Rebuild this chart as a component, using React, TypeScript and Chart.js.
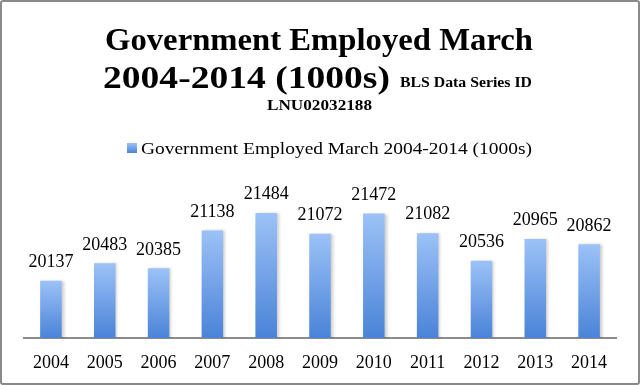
import React, { useEffect, useRef } from "react";
import { Chart, registerables } from "chart.js";

Chart.register(...registerables);

const years = ["2004", "2005", "2006", "2007", "2008", "2009", "2010", "2011", "2012", "2013", "2014"];
const employed = [20137, 20483, 20385, 21138, 21484, 21072, 21472, 21082, 20536, 20965, 20862];
const seriesLabel = "Government Employed March 2004-2014 (1000s)";
const titleLine1 = "Government Employed March";
const titleLine2 = "2004-2014 (1000s)";
const titleSmall = "BLS Data Series ID";
const titleLine3 = "LNU02032188";

const SERIF = "'Liberation Serif', 'DejaVu Serif', serif";

function fitText(ctx: CanvasRenderingContext2D, text: string, x: number, y: number, targetW: number) {
  const w = ctx.measureText(text).width;
  const s = targetW / w;
  ctx.save();
  ctx.translate(x, y);
  ctx.scale(s, 1);
  ctx.fillText(text, 0, 0);
  ctx.restore();
}

const titlePlugin = {
  id: "customTitle",
  afterDraw(chart: any) {
    const ctx = chart.ctx as CanvasRenderingContext2D;
    ctx.save();
    ctx.fillStyle = "#000";
    ctx.textBaseline = "alphabetic";
    ctx.textAlign = "left";
    ctx.font = `bold 32px ${SERIF}`;
    fitText(ctx, titleLine1, 103, 48, 428);
    ctx.font = `bold 32px ${SERIF}`;
    fitText(ctx, titleLine2, 101, 86, 287);
    ctx.font = `bold 15px ${SERIF}`;
    fitText(ctx, titleSmall, 398, 85, 132);
    ctx.font = `bold 15px ${SERIF}`;
    fitText(ctx, titleLine3, 265, 108, 105);

    // legend (series label with swatch)
    const boxX = 125, boxY = 141, boxS = 10;
    const g = ctx.createLinearGradient(0, boxY, 0, boxY + boxS);
    g.addColorStop(0, "#9cc2f7");
    g.addColorStop(1, "#4a83d8");
    ctx.fillStyle = g;
    ctx.fillRect(boxX, boxY, boxS, boxS);
    ctx.fillStyle = "#000";
    ctx.font = `17px ${SERIF}`;
    fitText(ctx, chart.data.datasets[0].label, 139, 152, 391);
    ctx.restore();
  },
};

const valueLabelPlugin = {
  id: "valueLabels",
  afterDatasetsDraw(chart: any) {
    const ctx = chart.ctx as CanvasRenderingContext2D;
    const meta = chart.getDatasetMeta(0);
    ctx.save();
    ctx.font = `18px ${SERIF}`;
    ctx.fillStyle = "#000";
    ctx.textAlign = "center";
    ctx.textBaseline = "middle";
    meta.data.forEach((bar: any, i: number) => {
      ctx.fillText(String(chart.data.datasets[0].data[i]), bar.x, bar.y - 18.5);
    });
    ctx.restore();
  },
};

const shadowPlugin = {
  id: "barShadow",
  beforeDatasetDraw(chart: any) {
    const ctx = chart.ctx as CanvasRenderingContext2D;
    ctx.save();
    ctx.shadowColor = "rgba(0,0,0,0.22)";
    ctx.shadowBlur = 3;
    ctx.shadowOffsetX = 2;
    ctx.shadowOffsetY = 0;
  },
  afterDatasetDraw(chart: any) {
    chart.ctx.restore();
  },
};

export default function App() {
  const ref = useRef<HTMLCanvasElement | null>(null);

  useEffect(() => {
    document.body.style.margin = "0";
    const canvas = ref.current;
    if (!canvas) return;
    const chart = new Chart(canvas, {
      type: "bar",
      data: {
        labels: years,
        datasets: [
          {
            label: seriesLabel,
            data: employed,
            backgroundColor: (c: any) => {
              const ch = c.chart;
              const area = ch.chartArea;
              if (!area || c.dataIndex === undefined || !ch.scales.y) return "#6f9fe6";
              const top = ch.scales.y.getPixelForValue(c.raw);
              const g = ch.ctx.createLinearGradient(0, top, 0, area.bottom);
              g.addColorStop(0, "#9cc2f7");
              g.addColorStop(1, "#4a83d8");
              return g;
            },
            borderWidth: 0,
            barPercentage: 0.4,
            categoryPercentage: 1,
          },
        ],
      },
      options: {
        animation: false,
        responsive: false,
        maintainAspectRatio: false,
        layout: { padding: { top: 185, left: 22, right: 22, bottom: 9 } },
        plugins: {
          title: { display: false },
          tooltip: { enabled: false },
          legend: { display: false },
        },
        scales: {
          x: {
            grid: { display: false, drawTicks: false },
            border: { display: true, color: "#8c8c8c", width: 2 },
            ticks: { color: "#000", padding: 14, font: { family: SERIF, size: 18 } },
            afterFit: (axis: any) => {
              axis.height = 36;
            },
          },
          y: {
            display: false,
            min: 19000,
            max: 22000,
          },
        },
      },
      plugins: [titlePlugin, valueLabelPlugin, shadowPlugin],
    });
    return () => chart.destroy();
  }, []);

  return (
    <div
      style={{
        position: "absolute",
        left: 0,
        top: 0,
        width: 640,
        height: 385,
        boxSizing: "border-box",
        border: "2px solid #8a8a8a",
        borderRadius: 3,
        background: "#fff",
      }}
    >
      <canvas ref={ref} width={636} height={381} style={{ display: "block", width: 636, height: 381 }} />
    </div>
  );
}
